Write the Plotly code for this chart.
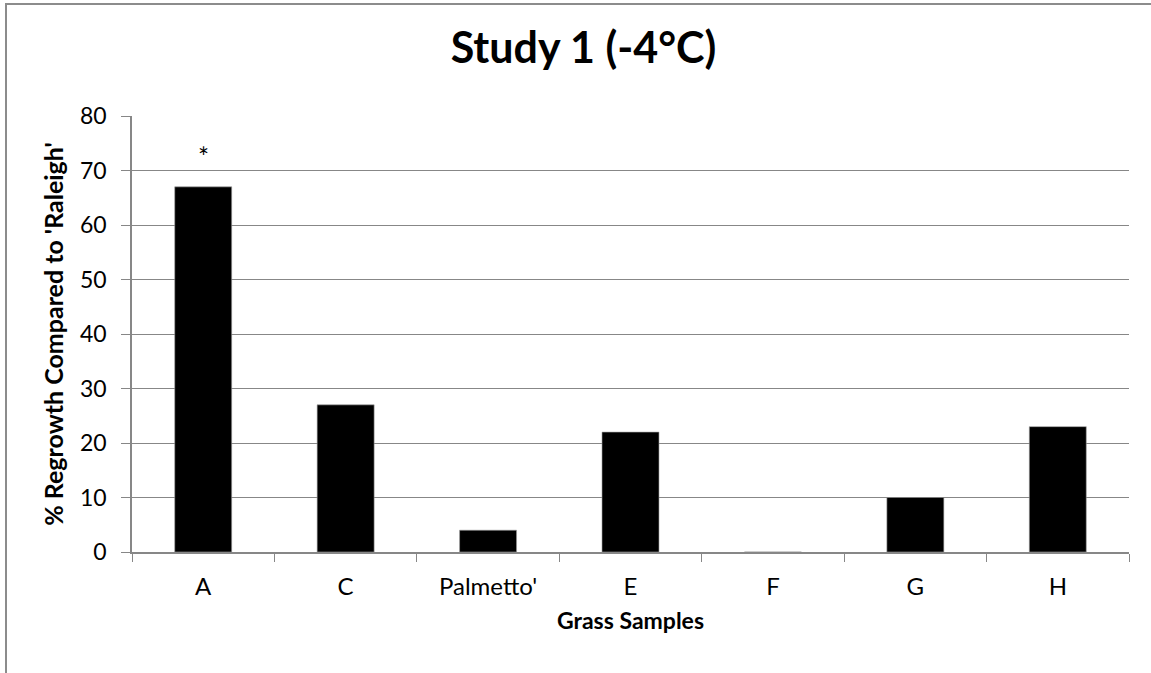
import plotly.graph_objects as go

categories = ["A", "C", "Palmetto'", "E", "F", "G", "H"]
values = [67, 27, 4, 22, 0, 10, 23]
y_ticks = [0, 10, 20, 30, 40, 50, 60, 70, 80]

FONT = "Lato, 'Open Sans', sans-serif"
GRID = "#878787"

fig = go.Figure()
fig.add_trace(go.Bar(
    x=categories, y=values,
    marker=dict(color="black", line=dict(color="#a0a0a0", width=0.6)),
    showlegend=False, hoverinfo="x+y",
))

fig.add_annotation(x="A", y=values[0], text="*", showarrow=False,
                   yanchor="bottom", yshift=12,
                   font=dict(family=FONT, size=26, color="black"))

W, H = 1151, 673
ml, mr, mt, mb = 132, 22, 116, 121
pw, ph = W - ml - mr, H - mt - mb

fig.add_shape(type="rect", xref="paper", yref="paper",
              x0=(6 - ml) / pw, x1=1.2, y0=-0.6, y1=1 + (mt - 4) / ph,
              line=dict(color="#8c8c8c", width=2), fillcolor="rgba(0,0,0,0)",
              layer="below")

fig.update_layout(
    width=W, height=H,
    margin=dict(l=ml, r=mr, t=mt, b=mb),
    paper_bgcolor="white", plot_bgcolor="white",
    bargap=0.6,
    title=dict(text="<b>Study 1 (-4°C)</b>", x=0.507, xanchor="center",
               y=1 - 48 / H, yanchor="middle",
               font=dict(family=FONT, size=43, color="black")),
    font=dict(family=FONT, color="black"),
    xaxis=dict(
        showline=True, linecolor=GRID, linewidth=1.5,
        ticks="outside", tickson="boundaries", ticklen=8, tickcolor=GRID,
        ticklabelstandoff=12,
        tickfont=dict(size=24, family=FONT, color="black"),
        title=dict(text="<b>Grass Samples</b>", standoff=14,
                   font=dict(size=23, family=FONT, color="black")),
        showgrid=False,
    ),
    yaxis=dict(
        range=[0, 80], tickvals=y_ticks,
        showline=True, linecolor=GRID, linewidth=1.5,
        ticks="outside", ticklen=9, tickcolor=GRID,
        ticklabelstandoff=10,
        showgrid=True, gridcolor=GRID, gridwidth=1.2,
        zeroline=False,
        tickfont=dict(size=23, family=FONT, color="black"),
        title=dict(text="<b>% Regrowth Compared to 'Raleigh'</b>", standoff=9,
                   font=dict(size=25, family=FONT, color="black")),
    ),
)

fig.write_html("out.html", post_script="document.body.style.margin='0';",
               config={"displayModeBar": False})
